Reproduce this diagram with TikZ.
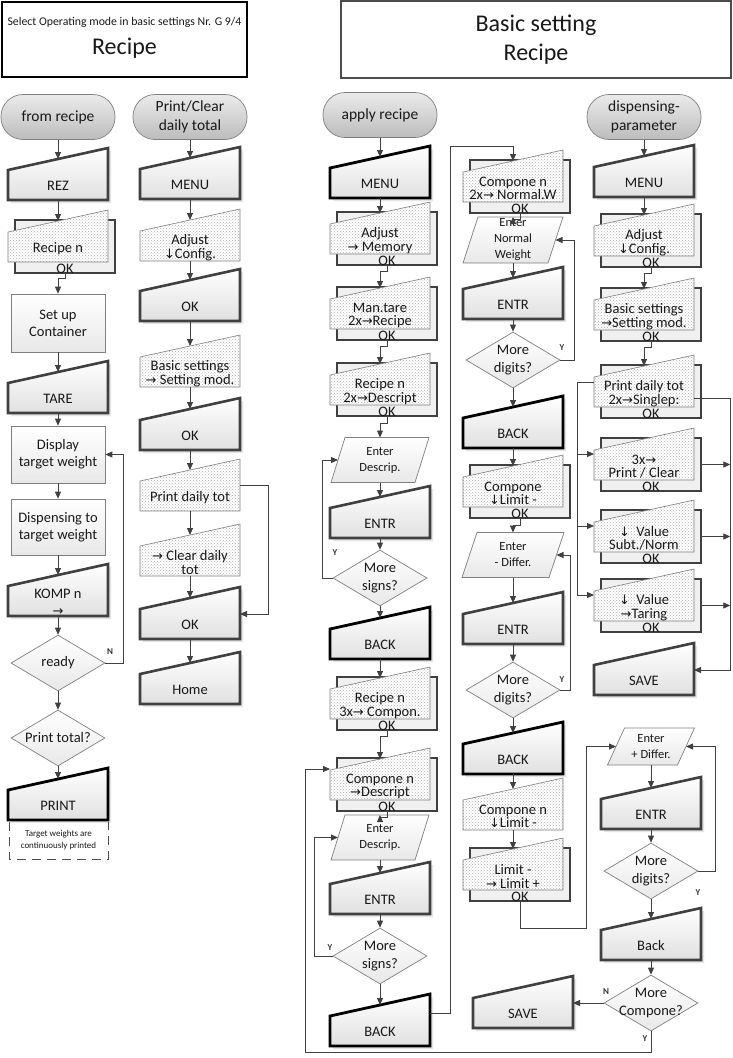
\documentclass[tikz,border=0pt]{standalone}
\usepackage{fontspec}
\setmainfont{Carlito}
\newfontfamily\symf{DejaVu Sans}
\usetikzlibrary{arrows.meta,shapes.geometric,patterns,calc}
\newcommand\RA{{\symf\fontsize{13}{13}\selectfont →}}
\newcommand\DA{{\symf\fontsize{13}{13}\selectfont ↓}}
\tikzset{
 ln/.style={draw=black!75,line width=0.8pt},
 arr/.style={ln,-{Triangle[length=7pt,width=6pt]}},
 kbd/.style={draw=black!75,line width=2.6pt,line join=miter,top color=white,bottom color=black!12},
 kbdb/.style={draw=black,line width=2.8pt},
 shd/.style={fill=black!10},
 scr/.style={draw=black!50,line width=0.6pt,preaction={fill=white},pattern=crosshatch dots,pattern color=black!30},
 bk/.style={draw=black!75,line width=2.6pt,fill=black!6,inner sep=0pt},
 hold/.style={inner sep=0pt,outer sep=0pt},
 txt/.style={inner sep=0pt,align=center,font=\fontsize{14.5}{17}\selectfont,text=black!90},
 term/.style={draw=black!50,line width=0.7pt,top color=black!8,bottom color=black!26,rounded corners=22pt,
   minimum width=114pt,minimum height=45pt,inner sep=0pt,align=center,font=\fontsize{15.5}{18.5}\selectfont,text=black!90},
 proc/.style={draw=black!50,line width=0.7pt,top color=white,bottom color=black!9,minimum width=94pt,
   inner sep=0pt,align=center,font=\fontsize{14.5}{17}\selectfont,text=black!90},
 dec/.style={draw=black!50,line width=0.7pt,top color=white,bottom color=black!9},
 yn/.style={inner sep=0pt,font=\bfseries\fontsize{9}{9}\selectfont,text=black!80},
 dsh/.style={draw=black!70,line width=0.7pt,dash pattern=on 9pt off 6pt},
}
\newcommand\Kbd[5][]{%
 \path[shd] (#3-47,#4+25) -- (#3+53,#4+3) -- (#3+53,#4+55) -- (#3-47,#4+55) -- cycle;
 \path[kbd,#1] (#3-50,#4+22) -- (#3+50,#4) -- (#3+50,#4+52) -- (#3-50,#4+52) -- cycle;
 \node[hold,minimum width=100pt,minimum height=30pt] (#2) at (#3,#4+37) {};
 \node[txt] (#2-x) at (#3,#4+38) {#5};
 \coordinate (#2-t) at (#3,#4+11);
}
\newcommand\Scr[4]{%
 \path[scr] (#2-50,#3+22) -- (#2+50,#3) -- (#2+50,#3+52) -- (#2-50,#3+52) -- cycle;
 \node[hold,minimum width=100pt,minimum height=30pt] (#1) at (#2,#3+37) {};
 \node[txt,font=\fontsize{14.5}{13.5}\selectfont] (#1-x) at (#2,#3+38.5) {#4};
 \coordinate (#1-t) at (#2,#3+11);
}
\newcommand\Disp[4]{%
 \node[bk,minimum width=100pt,minimum height=53pt] (#1-ok) at (#2+7,#3+36.5) {};
 \node[txt] (#1-k) at (#2+7,#3+58.5) {OK};
 \Scr{#1}{#2}{#3}{#4}%
}
\newcommand\Para[7]{% name cx cy w h skew text
 \path[dec] (#2-#4/2+#6,#3-#5/2) -- (#2+#4/2,#3-#5/2) -- (#2+#4/2-#6,#3+#5/2) -- (#2-#4/2,#3+#5/2) -- cycle;
 \node[hold,minimum width=#4pt-#6pt,minimum height=#5pt] (#1) at (#2,#3) {};
 \node[txt,font=\fontsize{12.5}{16}\selectfont] (#1-x) at (#2,#3) {#7};
}
\newcommand\Dec[4]{% name cx cy text
 \node[dec,diamond,minimum width=94pt,minimum height=56pt,inner sep=0pt] (#1) at (#2,#3) {};
 \node[txt,font=\fontsize{14.5}{18}\selectfont] (#1-x) at (#2,#3) {#4};
}
\begin{document}
\begin{tikzpicture}[x=1pt,y=-1pt]
\useasboundingbox (0,0) rectangle (732,1058);
\fill[white] (0,0) rectangle (732,1058);
% titles
\node[hold,draw=black,line width=1.2pt,minimum width=245pt,minimum height=75pt] (ttl1) at (124.5,39.5) {};
\node[txt,font=\fontsize{11.8}{13}\selectfont] (ttl1a) at (124.5,22) {Select Operating mode in basic settings Nr. G 9/4};
\node[txt,font=\fontsize{24}{26}\selectfont] (ttl1b) at (124.5,48) {Recipe};
\node[hold,draw=black!70,line width=1.2pt,minimum width=390pt,minimum height=77pt] (ttl2) at (536,39.5) {};
\node[txt,font=\fontsize{24}{26}\selectfont] (ttl2a) at (536,25) {Basic setting};
\node[txt,font=\fontsize{24}{26}\selectfont] (ttl2b) at (536,54) {Recipe};

% ---------- column A
\node[term] (tA) at (58,117) {from recipe};
\Kbd{rez}{58}{148}{REZ}
\Disp{recA}{58}{210}{Recipe n}
\node[proc,minimum height=58pt] (setup) at (58,323) {Set up\\Container};
\Kbd{tare}{58}{361}{TARE}
\node[proc,minimum height=57pt] (dsp) at (58,454.5) {Display\\target weight};
\node[proc,minimum height=56pt] (dsg) at (58,527) {Dispensing to\\target weight};
\Kbd{komp}{58}{564}{KOMP n\\\RA}
\Dec{ready}{58}{663}{ready}
\Dec{ptot}{58}{738}{Print total?}
\Kbd[kbdb]{prn}{58}{768}{PRINT}
\node[hold,minimum width=99pt,minimum height=37pt] (note) at (58.5,840.5) {};
\draw[dsh] (note.north west) -- (note.south west) -- (note.south east) -- (note.north east);
\node[txt,font=\fontsize{9}{12}\selectfont] (note-x) at (58.5,840) {Target weights are\\continuously printed};
\draw[arr] (tA.south) -- (rez-t);
\draw[arr] (rez.south) -- (recA-t);
\draw[arr] (recA-ok.south) -- ++(0,4) -| (setup.north);
\draw[arr] (setup.south) -- (tare-t);
\draw[arr] (tare.south) -- (dsp.north);
\draw[arr] (dsp.south) -- (dsg.north);
\draw[arr] (dsg.south) -- (komp-t);
\draw[arr] (komp.south) -- (ready.north);
\draw[arr] (ready.south) -- (ptot.north);
\draw[arr] (ptot.south) -- (prn-t);
\draw[arr] (ready.east) -- ++(18,0) |- (dsp.east);
\node[yn] (nA) at (110,652) {N};

% ---------- column B
\node[term] (tB) at (190,117) {Print/Clear\\daily total};
\Kbd{menB}{190}{147}{MENU}
\Scr{adjB}{190}{209}{Adjust\\\DA Config.}
\Kbd{okB1}{190}{269}{OK}
\Scr{basB}{190}{335}{Basic settings\\\RA\ Setting mod.}
\Kbd{okB2}{190}{398}{OK}
\Scr{pdtB}{190}{459}{Print daily tot}
\Scr{clrB}{190}{524}{\RA\ Clear daily\\tot}
\Kbd{okB3}{190}{587}{OK}
\Kbd{home}{190}{652}{Home}
\draw[arr] (tB.south) -- (menB-t);
\draw[arr] (menB.south) -- (adjB-t);
\draw[arr] (adjB.south) -- (okB1-t);
\draw[arr] (okB1.south) -- (basB-t);
\draw[arr] (basB.south) -- (okB2-t);
\draw[arr] (okB2.south) -- (pdtB-t);
\draw[arr] (pdtB.south) -- (clrB-t);
\draw[arr] (clrB.south) -- (okB3-t);
\draw[arr] (okB3.south) -- (home-t);
\draw[arr] ([yshift=11pt]pdtB.east) -- ++(28,0) |- ([yshift=10pt]okB3.east);

% ---------- column C
\node[term] (tC) at (380,115) {apply recipe};
\Kbd[kbdb]{menC}{380}{146}{MENU}
\Disp{adjC}{380}{202}{Adjust\\\RA\ Memory}
\Disp{manC}{380}{277}{Man.tare\\2x\RA Recipe}
\Disp{recC}{380}{353}{Recipe n\\2x\RA Descript}
\Para{entC}{380}{460}{98}{45}{14}{Enter\\Descrip.}
\Kbd{entrC1}{380}{486}{ENTR}
\Dec{mC1}{380}{578}{More\\signs?}
\Kbd[kbdb]{bkC1}{380}{607}{BACK}
\Disp{rcC}{380}{667}{Recipe n\\3x\RA\ Compon.}
\Disp{cmpC}{380}{748}{Compone n\\\RA Descript}
\Para{entC2}{380}{837.5}{98}{45}{14}{Enter\\Descrip.}
\Kbd{entrC2}{380}{862}{ENTR}
\Dec{mC2}{380}{956}{More\\signs?}
\Kbd[kbdb]{bkC2}{380}{994}{BACK}
\draw[arr] (tC.south) -- (menC-t);
\draw[arr] (menC.south) -- (adjC-t);
\draw[arr] (adjC-ok.south) -- ++(0,5) -| (manC-t);
\draw[arr] (manC-ok.south) -- ++(0,5) -| (recC-t);
\draw[arr] (recC-ok.south) -- ++(0,6) -| (entC.north);
\draw[arr] (entC.south) -- (entrC1-t);
\draw[arr] (entrC1.south) -- (mC1.north);
\draw[arr] (mC1.south) -- (bkC1-t);
\draw[arr] (bkC1.south) -- (rcC-t);
\draw[arr] (rcC-ok.south) -- ++(0,5) -| (cmpC-t);
\draw[arr] (cmpC-ok.south) -- ++(0,5) -| (entC2.north);
\draw[arr] (entC2.south) -- (entrC2-t);
\draw[arr] (entrC2.south) -- (mC2.north);
\draw[arr] (mC2.south) -- (bkC2-t);
\draw[arr] (mC1.west) -- ++(-10,0) |- (entC.west);
\draw[arr] (mC2.west) -- ++(-18,0) |- (entC2.west);
\node[yn] (yC1) at (335,553) {Y};
\node[yn] (yC2) at (330,948) {Y};

% ---------- column D
\coordinate (loopD) at (450,146);
\Disp{cmpD}{513}{150}{Compone n\\2x\RA\ Normal.W}
\Para{entD}{513}{240}{100}{46}{15}{Enter\\Normal\\Weight}
\Kbd{entrD1}{513}{267}{ENTR}
\Dec{mD1}{513}{360}{More\\digits?}
\Kbd[kbdb]{bkD1}{513}{396}{BACK}
\Disp{limD}{513}{455}{Compone\\\DA Limit -}
\Para{entD2}{513}{555}{102}{45}{15}{Enter\\- Differ.}
\Kbd{entrD2}{513}{592}{ENTR}
\Dec{mD2}{513}{690}{More\\digits?}
\Kbd[kbdb]{bkD2}{513}{722}{BACK}
\Scr{limDb}{513}{778}{Compone n\\\DA Limit -}
\Disp{limDc}{513}{838}{Limit -\\\RA\ Limit +}
\draw[arr] ([yshift=18pt]bkC2.east) -| (loopD) -| (cmpD-t);
\draw[arr] (cmpD-ok.south) -- ++(0,5) -| (entD.north);
\draw[arr] (entD.south) -- (entrD1-t);
\draw[arr] (entrD1.south) -- (mD1.north);
\draw[arr] (mD1.south) -- (bkD1-t);
\draw[arr] (bkD1.south) -- (limD-t);
\draw[arr] (limD-ok.south) -- ++(0,6) -| (entD2.north);
\draw[arr] (entD2.south) -- (entrD2-t);
\draw[arr] (entrD2.south) -- (mD2.north);
\draw[arr] (mD2.south) -- (bkD2-t);
\draw[arr] (bkD2.south) -- (limDb-t);
\draw[arr] (limDb.south) -- (limDc-t);
\draw[arr] (mD1.east) -- ++(14,0) |- (entD.east);
\draw[arr] (mD2.east) -- ++(10,0) |- (entD2.east);
\node[yn] (yD1) at (562,348) {Y};
\node[yn] (yD2) at (562,680) {Y};

% ---------- column E
\node[term] (tE) at (644,117) {dispensing-\\parameter};
\Kbd{menE}{644}{145}{MENU}
\Disp{adjE}{644}{204}{Adjust\\\DA Config.}
\Disp{basE}{644}{278}{Basic settings\\\RA Setting mod.}
\Disp{pdtE}{644}{355}{Print daily tot\\2x\RA Singlep:}
\Disp{prcE}{644}{428}{3x\RA\\Print / Clear}
\Disp{valE}{644}{500}{\DA\ \ Value\\Subt./Norm}
\Disp{tarE}{644}{569}{\DA\ \ Value\\\RA Taring}
\Kbd{saveE}{644}{643}{SAVE}
\draw[arr] (tE.south) -- (menE-t);
\draw[arr] (menE.south) -- (adjE-t);
\draw[arr] (adjE-ok.south) -- ++(0,5) -| (basE-t);
\draw[arr] (basE-ok.south) -- ++(0,5) -| (pdtE-t);
\path ([yshift=10pt]pdtE.west) ++(-17,0) coordinate (eb);
\draw[ln] ([yshift=10pt]pdtE.west) -- (eb);
\draw[arr] (eb) |- ([yshift=11pt]prcE.west);
\draw[arr] (eb) |- ([yshift=11pt]valE.west);
\draw[arr] (eb) |- ([yshift=11pt]tarE.west);
\draw[arr] ([yshift=-6pt]pdtE.east) -- ++(36,0) |- ([yshift=10pt]saveE.east);
\draw[arr] (prcE-ok.east) -- ++(28,0);
\draw[arr] (valE-ok.east) -- ++(28,0);
\draw[arr] (tarE-ok.east) -- ++(28,0);

% ---------- lower E
\Para{entE}{651}{746.5}{87}{37}{17}{Enter\\+ Differ.}
\Kbd{entrE}{651}{777}{ENTR}
\Dec{mE}{651}{871}{More\\digits?}
\Kbd{bkE}{651}{908}{Back}
\Dec{mCo}{651}{1003}{More\\Compone?}
\Kbd{saveF}{523}{976}{SAVE}
\coordinate (loopE) at (586,928);
\coordinate (loopC) at (305,1052);
\draw[arr] (limDc-ok.south) |- (loopE) |- (entE.west);
\draw[arr] (entE.south) -- (entrE-t);
\draw[arr] (entrE.south) -- (mE.north);
\draw[arr] (mE.south) -- (bkE-t);
\draw[arr] (bkE.south) -- (mCo.north);
\draw[arr] (mE.east) -- ++(17,0) |- (entE.east);
\draw[arr] (mCo.west) -- (mCo.west -| saveF.east);
\draw[arr] (mCo.south) |- (loopC) |- ([yshift=16pt]cmpC.west);
\node[yn] (yE) at (698,893) {Y};
\node[yn] (nCo) at (606,992) {N};
\node[yn] (yCo) at (645,1039) {Y};
\end{tikzpicture}
\end{document}
